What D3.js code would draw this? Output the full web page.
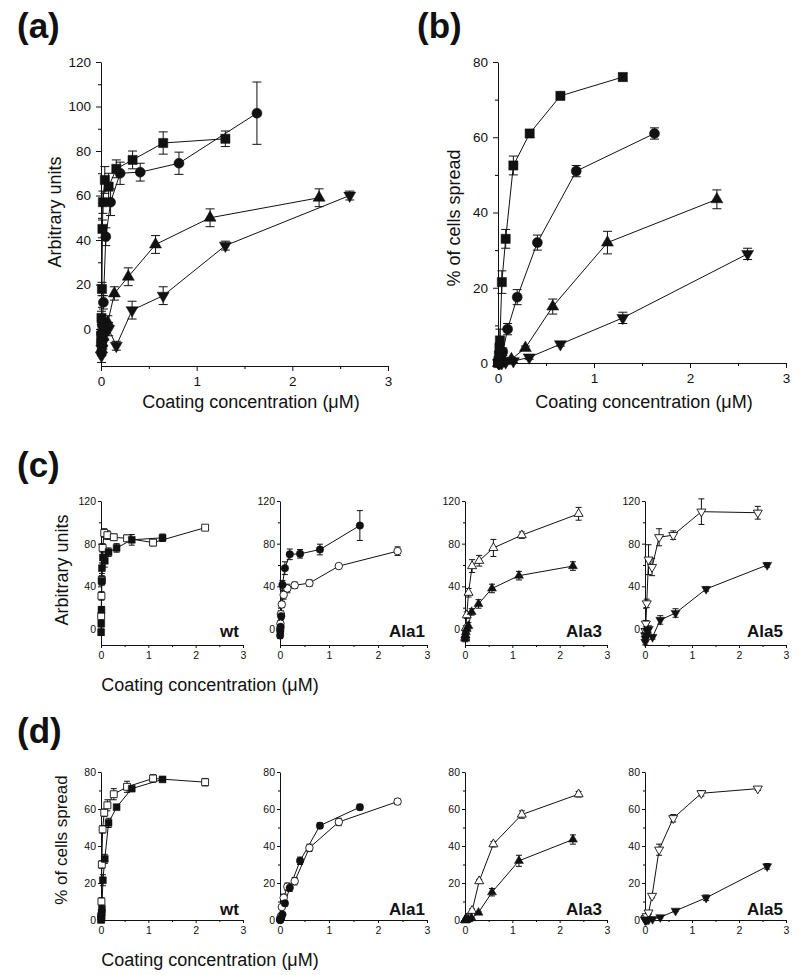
<!DOCTYPE html>
<html><head><meta charset="utf-8">
<script src="https://cdn.jsdelivr.net/npm/d3@7"></script>
<style>body{margin:0;background:#fff} svg text{font-family:"Liberation Sans",Arial,Helvetica,sans-serif}</style>
</head><body><svg id="chart" width="800" height="975"></svg>
<script>
// ---------------- DATA ----------------
const xTickValues = [0, 1, 2, 3];
const xMinorTicks = [0.5, 1.5, 2.5];
const yTicksA = [0, 20, 40, 60, 80, 100, 120];
const yTicksB = [0, 20, 40, 60, 80];
const yTicksC = [0, 40, 80, 120];
const yTicksD = [0, 20, 40, 60, 80];
const xAxisTitle = "Coating concentration (\u03BCM)";
const yTitleAdh = "Arbitrary units";
const yTitleSpread = "% of cells spread";
const mutantNames = ["wt", "Ala1", "Ala3", "Ala5"];

// concentrations (uM), filled series
const concWt   = [0.0025, 0.005, 0.01, 0.015, 0.02, 0.04, 0.08, 0.16, 0.33, 0.65, 1.3];
const concAla1 = [0.003, 0.006, 0.0125, 0.025, 0.05, 0.1, 0.2, 0.41, 0.815, 1.63];
const concAla3 = [0.0045, 0.009, 0.018, 0.036, 0.071, 0.14, 0.285, 0.57, 1.14, 2.28];
const concAla5 = [0.005, 0.01, 0.02, 0.04, 0.08, 0.16, 0.325, 0.65, 1.3, 2.6];
// concentrations (uM), open series
const concWtOpen  = [0.004, 0.009, 0.017, 0.034, 0.068, 0.135, 0.27, 0.55, 1.1, 2.2];
const concMutOpen = [0.0045, 0.009, 0.018, 0.037, 0.075, 0.15, 0.3, 0.6, 1.2, 2.4];

// (a) adhesion, arbitrary units (filled)
const adhWt     = [-3, 5, 18, 45, 57, 67, 64, 72, 76, 83.6, 85.5];
const adhWtErr  = [3, 3, 3, 4, 5, 6, 6, 4, 4, 5, 3.5];
const adhAla1    = [-6, -2, 2, 12, 41.5, 57, 70, 70.5, 74.5, 97];
const adhAla1Err = [3, 3, 3, 3, 4, 6, 5, 4, 5, 14];
const adhAla3    = [-9, -6, -3, 0, 3, 16, 23.5, 38, 50, 59];
const adhAla3Err = [3, 3, 3, 3, 3, 3, 4, 4, 4, 4];
const adhAla5    = [-12, -9, -6, -2, 0, -7.5, 8.5, 15, 37.5, 60];
const adhAla5Err = [3, 3, 3, 3, 3, 2, 4, 4, 2, 2];

// (b) % of cells spread (filled)
const sprWt     = [0, 0.5, 2, 4, 6, 21.5, 33, 52.5, 61, 71, 76];
const sprWtErr  = [0.5, 0.5, 1, 1.5, 3, 3, 2.5, 2.5, 1, 1, 1];
const sprAla1    = [0, 0.3, 0.5, 1, 3, 9, 17.5, 32, 51, 61];
const sprAla1Err = [0.5, 0.5, 0.5, 0.5, 1, 1.5, 2, 2, 1.5, 1.5];
const sprAla3    = [0, 0, 0, 0.3, 0.5, 1, 4, 15, 32, 43.5];
const sprAla3Err = [0, 0, 0, 0, 0.5, 0.5, 0.5, 2, 3, 2.5];
const sprAla5    = [0, 0, 0, 0, 0.2, 0.5, 1.5, 5, 12, 29];
const sprAla5Err = [0, 0, 0, 0, 0, 0.5, 0.5, 0.5, 1.5, 1.5];

// (c) adhesion, open series
const adhWtOpen     = [12, 31, 46, 76, 90, 88, 86, 85, 81, 95];
const adhWtOpenErr  = [3, 4, 4, 4, 4, 4, 3, 3, 3, 2];
const adhAla1Open    = [0, 5, 14, 23, 32, 38, 41, 43, 59, 73];
const adhAla1OpenErr = [3, 3, 3, 3, 4, 4, 3, 3, 2, 4];
const adhAla3Open    = [-8, -6, 1, 13, 34, 59, 64, 76, 88, 108];
const adhAla3OpenErr = [2, 2, 2, 3, 4, 6, 5, 8, 3, 6];
const adhAla5Open    = [-6, -2, 5, 24, 65, 58, 86, 88, 110, 109];
const adhAla5OpenErr = [2, 2, 3, 4, 14, 8, 8, 4, 12, 6];

// (d) % spread, open series
const sprWtOpen     = [2, 10, 30, 49, 58, 62, 68, 72, 76.5, 74.5];
const sprWtOpenErr  = [1, 2, 2, 2, 2, 3, 3, 3, 2, 2];
const sprAla1Open    = [0, 1, 2, 7, 12, 18, 21, 39, 53, 64];
const sprAla1OpenErr = [0, 0.5, 1, 1, 2, 2, 2, 2, 2, 1.5];
const sprAla3Open    = [0, 0, 0.5, 1, 1.5, 5, 21, 41, 57, 68];
const sprAla3OpenErr = [0, 0, 0, 0, 0.5, 1, 1, 1.5, 2, 1.5];
const sprAla5Open    = [0, 0.5, 1, 2, 4, 13, 38, 55, 68.5, 71];
const sprAla5OpenErr = [0, 0, 0.5, 0.5, 1, 1, 3, 2, 1.5, 1];

// ---------------- DRAWING ----------------
const svg = d3.select("#chart");
const FONT = '"Liberation Sans",Arial,Helvetica,sans-serif';

function series(conc, vals, errs, shape, open) {
  return {pts: conc.map((c, i) => ({x: c, y: vals[i], e: errs[i]})), shape, open};
}
function symPath(shape, s) {
  if (shape === "square") return d3.symbol(d3.symbolSquare, s * s)();
  if (shape === "circle") return d3.symbol(d3.symbolCircle, Math.PI * (s / 2) * (s / 2))();
  return d3.symbol(d3.symbolTriangle, s * s * Math.sqrt(3) / 4)();
}

function panel(cfg) {
  const g = svg.append("g");
  const x = d3.scaleLinear().domain([0, 3]).range([cfg.x0, cfg.x1]);
  const y = d3.scaleLinear().domain(cfg.ydom).range([cfg.yb, cfg.yt]);

  g.append("g").attr("transform", `translate(0,${cfg.yb})`)
    .call(d3.axisBottom(x).tickValues(xMinorTicks).tickSize(cfg.minor).tickFormat(""))
    .call(a => a.select(".domain").remove());
  g.append("g").attr("transform", `translate(${cfg.x0},0)`)
    .call(d3.axisLeft(y).tickValues(cfg.yminor).tickSize(cfg.minor).tickFormat(""))
    .call(a => a.select(".domain").remove());

  const xa = g.append("g").attr("transform", `translate(0,${cfg.yb})`)
    .call(d3.axisBottom(x).tickValues(xTickValues).tickSize(cfg.major).tickSizeOuter(0)
      .tickPadding(cfg.xpad).tickFormat(d3.format("d")));
  const ya = g.append("g").attr("transform", `translate(${cfg.x0},0)`)
    .call(d3.axisLeft(y).tickValues(cfg.yticks).tickSize(cfg.major).tickSizeOuter(0)
      .tickPadding(cfg.ypad).tickFormat(d3.format("d")));
  [xa, ya].forEach(a => {
    a.attr("font-size", cfg.tickFont).attr("font-family", FONT);
    a.selectAll("text").attr("fill", "#111");
    a.selectAll("line,path").attr("stroke", "#111").attr("stroke-width", 1);
  });

  const line = d3.line().x(d => x(d.x)).y(d => y(d.y));
  cfg.series.forEach(s => {
    g.append("path").datum(s.pts).attr("d", line)
      .attr("fill", "none").attr("stroke", "#111").attr("stroke-width", cfg.lw);
  });
  cfg.series.forEach(s => {
    const eg = g.append("g").attr("stroke", "#111").attr("stroke-width", 1);
    s.pts.filter(p => p.e > 0).forEach(p => {
      const cx = x(p.x), y1 = y(p.y - p.e), y2 = y(p.y + p.e), h = cfg.cap / 2;
      eg.append("line").attr("x1", cx).attr("x2", cx).attr("y1", y1).attr("y2", y2);
      eg.append("line").attr("x1", cx - h).attr("x2", cx + h).attr("y1", y1).attr("y2", y1);
      eg.append("line").attr("x1", cx - h).attr("x2", cx + h).attr("y1", y2).attr("y2", y2);
    });
  });
  cfg.series.forEach(s => {
    const sz = s.shape === "square" ? cfg.ms * 0.92 : (s.shape === "circle" ? cfg.ms : cfg.ms * 1.2);
    g.append("g").selectAll("path").data(s.pts).join("path")
      .attr("d", symPath(s.shape, sz))
      .attr("transform", d => `translate(${x(d.x)},${y(d.y)})` + (s.shape === "down" ? " rotate(180)" : ""))
      .attr("fill", s.open ? "#fff" : "#111")
      .attr("stroke", "#111").attr("stroke-width", s.open ? 0.9 : 0.5);
  });
  if (cfg.name) {
    g.append("text").attr("x", cfg.nameX).attr("y", cfg.nameY).attr("text-anchor", "end")
      .attr("font-size", 17).attr("font-weight", "bold").attr("fill", "#111").text(cfg.name);
  }
}

function text(x, y, str, size, opts = {}) {
  const t = svg.append("text").attr("x", x).attr("y", y).attr("font-size", size)
    .attr("fill", "#111").attr("text-anchor", opts.anchor || "start").text(str);
  if (opts.bold) t.attr("font-weight", "bold");
  if (opts.rot) t.attr("transform", `rotate(-90,${x},${y})`);
  return t;
}

// Panel (a)
panel({x0: 101, x1: 388, yb: 366, yt: 62, ydom: [-16.6, 120], yticks: yTicksA,
  yminor: [-10, 10, 30, 50, 70, 90, 110], major: 5, minor: 3, xpad: 5, ypad: 5, tickFont: 13.5,
  lw: 1, cap: 9, ms: 10,
  series: [series(concAla5, adhAla5, adhAla5Err, "down"), series(concAla3, adhAla3, adhAla3Err, "up"),
           series(concAla1, adhAla1, adhAla1Err, "circle"), series(concWt, adhWt, adhWtErr, "square")]});
// Panel (b)
panel({x0: 498, x1: 786, yb: 363, yt: 62, ydom: [0, 80], yticks: yTicksB,
  yminor: [10, 30, 50, 70], major: 5, minor: 3, xpad: 5, ypad: 5, tickFont: 13.5,
  lw: 1, cap: 9, ms: 10,
  series: [series(concAla5, sprAla5, sprAla5Err, "down"), series(concAla3, sprAla3, sprAla3Err, "up"),
           series(concAla1, sprAla1, sprAla1Err, "circle"), series(concWt, sprWt, sprWtErr, "square")]});

const smallX = [[101, 243], [280, 427], [465, 607], [645, 786]];
const cFilled = [
  series(concWt, adhWt, adhWtErr, "square"), series(concAla1, adhAla1, adhAla1Err, "circle"),
  series(concAla3, adhAla3, adhAla3Err, "up"), series(concAla5, adhAla5, adhAla5Err, "down")];
const cOpen = [
  series(concWtOpen, adhWtOpen, adhWtOpenErr, "square", true), series(concMutOpen, adhAla1Open, adhAla1OpenErr, "circle", true),
  series(concMutOpen, adhAla3Open, adhAla3OpenErr, "up", true), series(concMutOpen, adhAla5Open, adhAla5OpenErr, "down", true)];
const dFilled = [
  series(concWt, sprWt, sprWtErr, "square"), series(concAla1, sprAla1, sprAla1Err, "circle"),
  series(concAla3, sprAla3, sprAla3Err, "up"), series(concAla5, sprAla5, sprAla5Err, "down")];
const dOpen = [
  series(concWtOpen, sprWtOpen, sprWtOpenErr, "square", true), series(concMutOpen, sprAla1Open, sprAla1OpenErr, "circle", true),
  series(concMutOpen, sprAla3Open, sprAla3OpenErr, "up", true), series(concMutOpen, sprAla5Open, sprAla5OpenErr, "down", true)];
const nameRight = [239, 425, 602, 783];

mutantNames.forEach((nm, i) => {
  panel({x0: smallX[i][0], x1: smallX[i][1], yb: 645, yt: 501, ydom: [-15, 120], yticks: yTicksC,
    yminor: [20, 60, 100], major: 3, minor: 2, xpad: 4, ypad: 2, tickFont: 10.5,
    lw: 1, cap: 6, ms: 7.5, name: nm, nameX: nameRight[i], nameY: 637,
    series: [cOpen[i], cFilled[i]]});
  panel({x0: smallX[i][0], x1: smallX[i][1], yb: 920, yt: 772, ydom: [0, 80], yticks: yTicksD,
    yminor: [10, 30, 50, 70], major: 3, minor: 2, xpad: 4, ypad: 2, tickFont: 10.5,
    lw: 1, cap: 6, ms: 7.5, name: nm, nameX: nameRight[i], nameY: 915,
    series: [dOpen[i], dFilled[i]]});
});

// Titles
text(17, 38, "(a)", 35, {bold: true});
text(417, 38, "(b)", 35, {bold: true});
text(17, 477, "(c)", 35, {bold: true});
text(17, 743, "(d)", 35, {bold: true});

text(251, 408, xAxisTitle, 18, {anchor: "middle"});
text(644, 408, xAxisTitle, 18, {anchor: "middle"});
text(210, 691, xAxisTitle, 18, {anchor: "middle"});
text(210, 966, xAxisTitle, 18, {anchor: "middle"});

text(61, 212, yTitleAdh, 18, {anchor: "middle", rot: true});
text(460, 218, yTitleSpread, 18, {anchor: "middle", rot: true});
text(68, 570, yTitleAdh, 18, {anchor: "middle", rot: true});
text(67, 840, yTitleSpread, 17, {anchor: "middle", rot: true});
</script>
</body></html>
